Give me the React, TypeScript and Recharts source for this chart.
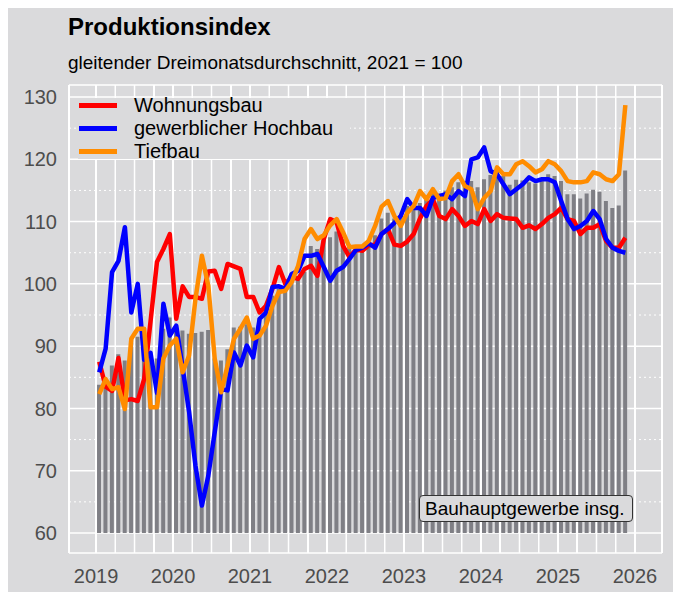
import React from 'react';
import { ComposedChart, Bar, Line, XAxis, YAxis, CartesianGrid } from 'recharts';

// monthly values, Jan 2019 - Nov 2025 (3-month moving average, 2021 = 100)
const startYear = 2019;
const yearTicks = [2019, 2020, 2021, 2022, 2023, 2024, 2025, 2026];
const valueTicks = [60, 70, 80, 90, 100, 110, 120, 130];
const minorValueTicks = [65, 75, 85, 95, 105, 115, 125];
const barBase = 60;

const bauhauptgewerbe = [
  83.8, 84.5, 86.9, 88.7, 87.7, 90.5, 91.5, 92, 88.5, 88, 92.8, 94.6,
  93.3, 92.5, 92, 92.1, 92.3, 92.6, 88, 87.7, 89.5, 93, 93.1, 93.5,
  93, 94.5, 96, 98.1, 99.2, 99.5, 100.5, 100.8, 101.9, 106.1, 105.6, 107,
  107.5, 108.4, 107.2, 105.9, 105.6, 105.8, 106.4, 107.8, 110.5, 111.4, 110.5, 111,
  112.5, 112.5, 113, 113.5, 114.5, 114.5, 115, 115.5, 116.3, 116.5, 116.5, 115.5,
  116.8, 117.5, 118, 117.3, 115.9, 116.7, 116.6, 116.3, 116.1, 116.5, 117.6, 117.3,
  116.5, 114.4, 114.4, 113.7, 114.5, 115.1, 114.8, 113.3, 112.2, 112.6, 118.2,
];

const wohnungsbau = [
  87.5, 83.5, 82.8, 88.1, 81.3, 81.5, 81.2, 84.7, 94, 103.5, 105.6, 108,
  94.4, 99.6, 97.9, 97.9, 97.6, 102, 102.1, 99.2, 103.2, 102.8, 102.4, 97.9,
  97.9, 95.4, 96.5, 99.2, 102.7, 100, 101.1, 100.8, 102.4, 102.9, 101.3, 107.2,
  110.4, 109.9, 106.1, 104.3, 105.5, 105.3, 106.2, 106.3, 108, 108.8, 106.3, 106.1,
  106.8, 108, 110.5, 112.5, 113.6, 110.9, 110.4, 112, 110.9, 109.3, 110.1, 109.6,
  112, 110.1, 111.2, 110.6, 110.5, 110.4, 109, 109.4, 108.8, 109.6, 110.6, 111.2,
  112.2, 110.4, 110.1, 108, 109, 109, 109.6, 106.9, 105.8, 105.8, 107.4,
];

const gewerblicherHochbau = [
  85.8, 89.6, 101.9, 103.7, 109.1, 95.4, 100, 87.8, 88.9, 82.5, 96.8, 91.7,
  93.3, 86.5, 79.5, 70.8, 64.4, 69.2, 76.2, 83.1, 82.9, 89, 86.9, 90.1,
  88.2, 94.4, 95.4, 99.5, 99.6, 99.2, 101.6, 102.1, 104.5, 104.5, 104.8, 102.7,
  100.5, 102.1, 102.7, 104, 105.4, 105.8, 106.5, 105.8, 108, 108.8, 109.8, 110.9,
  113.6, 112.2, 112.2, 110.9, 113.8, 114.1, 114.4, 113.6, 114.9, 114.1, 120, 120.3,
  121.9, 118.1, 117.6, 116, 114.4, 115.2, 116, 117.1, 116.5, 116.8, 116.8, 116.3,
  113.3, 110.4, 108.8, 109.3, 110.1, 111.7, 110.4, 107.2, 105.8, 105.3, 105,
];

const tiefbau = [
  82.3, 84.7, 83.1, 83.4, 79.9, 91.2, 92.8, 92.8, 80.2, 80.2, 88, 90.1,
  91.2, 85.8, 88.5, 97.6, 104.5, 99.7, 88, 82.6, 86.9, 91.2, 92.8, 94.6,
  91.2, 91.7, 93.3, 96.5, 98.7, 98.9, 100.3, 102.9, 107.2, 108.8, 107.2, 107.8,
  109.4, 110.4, 108.3, 105.9, 106, 106, 106.9, 109.3, 112.4, 113.3, 110.9, 109.3,
  111.4, 112.5, 114.9, 113.6, 115.2, 113.6, 113.8, 116.5, 117.6, 115.7, 115.2, 112,
  113.8, 114.9, 118.7, 117.6, 117.6, 119.2, 119.7, 118.9, 117.9, 118.4, 119.7, 119.2,
  118.1, 116.5, 116.3, 116.3, 116.5, 117.9, 117.6, 116.8, 116.5, 117.6, 128.7,
];

const series = [
  { key: 'wohnungsbau', name: 'Wohnungsbau', color: '#ff0000' },
  { key: 'hochbau', name: 'gewerblicher Hochbau', color: '#0000ff' },
  { key: 'tiefbau', name: 'Tiefbau', color: '#ff8c00' },
];

const X_MIN = 2018.649;
const X_MAX = 2026.351;
const Y_MIN = 56.79;
const Y_MAX = 131.93;

const CHART_W = 665;
const CHART_H = 586;
const MARGIN = { top: 79, right: 11, bottom: 0, left: 0 };
const Y_AXIS_W = 61;
const X_AXIS_H = 39;
const PLOT_LEFT = MARGIN.left + Y_AXIS_W;
const PLOT_W = CHART_W - PLOT_LEFT - MARGIN.right;
const PLOT_H = CHART_H - MARGIN.top - MARGIN.bottom - X_AXIS_H;

const data = bauhauptgewerbe.map((v, i) => ({
  t: startYear + (i + 0.5) / 12,
  total: [barBase, v],
  wohnungsbau: wohnungsbau[i],
  hochbau: gewerblicherHochbau[i],
  tiefbau: tiefbau[i],
}));

const quarterLines: number[] = [];
yearTicks.forEach((y, i) => {
  quarterLines.push(y);
  if (i < yearTicks.length - 1) quarterLines.push(y + 0.25, y + 0.5, y + 0.75);
});

// same linear mapping as the x axis (domain -> plot width)
const xPos = (v: number) => PLOT_LEFT + ((v - X_MIN) / (X_MAX - X_MIN)) * PLOT_W;
const verticalPoints = [X_MIN, ...quarterLines, X_MAX].map(xPos);
const horizontalGrid = [Y_MIN, ...valueTicks, Y_MAX];

const PANEL = '#dadadc';
const FONT = '"Liberation Sans", Arial, sans-serif';

export default function App() {
  return (
    <div style={{ position: 'relative', width: CHART_W, height: CHART_H, marginTop: -2, background: PANEL, fontFamily: FONT }}>
      <div style={{ position: 'absolute', left: 60, top: 9, fontSize: 24, fontWeight: 'bold', color: '#000', lineHeight: 1 }}>
        Produktionsindex
      </div>
      <div style={{ position: 'absolute', left: 60, top: 47, fontSize: 19, color: '#000', lineHeight: 1 }}>
        gleitender Dreimonatsdurchschnitt, 2021 = 100
      </div>

      {/* vertical grid behind the chart svg */}
      {verticalPoints.map((x, i) => (
        <div
          key={i}
          style={{ position: 'absolute', left: x - 0.75, top: MARGIN.top, width: 1.5, height: PLOT_H, background: '#ffffff' }}
        />
      ))}

      <ComposedChart width={CHART_W} height={CHART_H} data={data} margin={MARGIN}>
        <CartesianGrid
          stroke="#ffffff"
          strokeWidth={1.5}
          horizontalValues={horizontalGrid}
          verticalPoints={verticalPoints}
        />
        <CartesianGrid
          stroke="#ffffff"
          strokeWidth={1}
          strokeDasharray="2 3"
          vertical={false}
          horizontalValues={minorValueTicks}
        />
        <XAxis
          dataKey="t"
          type="number"
          domain={[X_MIN, X_MAX]}
          ticks={yearTicks}
          interval={0}
          allowDataOverflow
          height={X_AXIS_H}
          axisLine={false}
          tickLine={false}
          tickSize={0}
          tickMargin={16}
          tick={{ fill: '#4d4d4d', fontSize: 20, fontFamily: FONT }}
        />
        <YAxis
          type="number"
          domain={[Y_MIN, Y_MAX]}
          ticks={valueTicks}
          interval={0}
          allowDataOverflow
          width={Y_AXIS_W}
          axisLine={false}
          tickLine={false}
          tickSize={0}
          tickMargin={12}
          tick={{ fill: '#4d4d4d', fontSize: 20, fontFamily: FONT }}
        />
        <Bar dataKey="total" barSize={4} fill="#7f7f85" isAnimationActive={false} />
        {series.map((s) => (
          <Line
            key={s.key}
            dataKey={s.key}
            type="linear"
            stroke={s.color}
            strokeWidth={4.5}
            dot={false}
            activeDot={false}
            strokeLinejoin="round"
            isAnimationActive={false}
          />
        ))}
      </ComposedChart>

      {/* legend */}
      <div style={{ position: 'absolute', left: 70, top: 92, width: 272, height: 61, background: PANEL }}>
        {series.map((s, i) => (
          <div key={s.key} style={{ position: 'absolute', left: 0, top: 7 + i * 23 - 12, height: 24, width: 272 }}>
            <div style={{ position: 'absolute', left: 1, top: 9.5, width: 38, height: 5, background: s.color }} />
            <div style={{ position: 'absolute', left: 56, top: 1, fontSize: 20, lineHeight: '22px', color: '#000', whiteSpace: 'nowrap' }}>
              {s.name}
            </div>
          </div>
        ))}
      </div>

      {/* annotation */}
      <div
        style={{
          position: 'absolute',
          left: 411,
          top: 489,
          width: 207,
          height: 25,
          border: '1px solid #333',
          borderRadius: 4,
          background: PANEL,
          fontSize: 19,
          lineHeight: '25px',
          paddingLeft: 5,
          boxSizing: 'content-box',
          color: '#000',
          whiteSpace: 'nowrap',
        }}
      >
        Bauhauptgewerbe insg.
      </div>
    </div>
  );
}
